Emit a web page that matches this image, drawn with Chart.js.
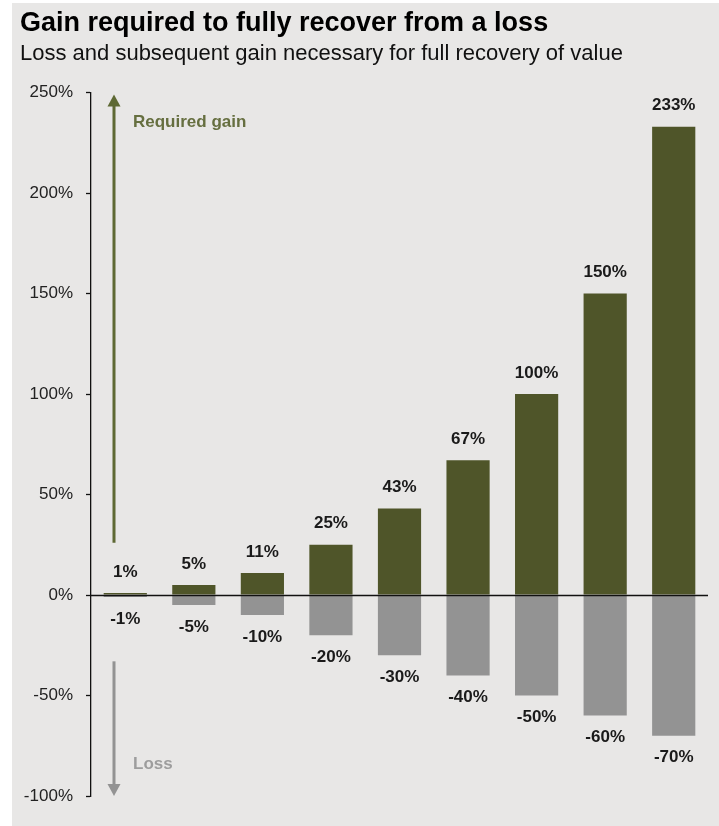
<!DOCTYPE html>
<html>
<head>
<meta charset="utf-8">
<script src="https://cdn.jsdelivr.net/npm/chart.js@4.4.1/dist/chart.umd.min.js"></script>
<style>
  html, body { margin: 0; padding: 0; background: #ffffff; }
  #wrap { position: relative; width: 719px; height: 826px; }
  canvas { display: block; }
</style>
</head>
<body>
<div id="wrap"><canvas id="chart" width="719" height="826"></canvas></div>
<script>
// Loss levels and the gain needed afterwards to get back to the starting value
const categories = ['1%', '5%', '10%', '20%', '30%', '40%', '50%', '60%', '70%'];
const lossValues = [-1, -5, -10, -20, -30, -40, -50, -60, -70];
const gainValues = [1, 5, 11, 25, 43, 67, 100, 150, 233];

// Value axis
const yMin = -100;
const yMax = 250;
const yStep = 50;

// Direction arrows, in axis units (start, tip) and their captions
const gainArrow = [26, 249];
const lossArrow = [-33, -100];
const gainCaption = { text: 'Required gain', value: 235 };
const lossCaption = { text: 'Loss', value: -84 };

const titleText = 'Gain required to fully recover from a loss';
const subtitleText = 'Loss and subsequent gain necessary for full recovery of value';

const FONT = '"Liberation Sans", Arial, Helvetica, sans-serif';
const GREEN = '#4f5529';
const GREY = '#939393';
const ARROW_GREEN = '#5e6934';
const CAPTION_GREEN = '#666f40';

const backgroundPlugin = {
  id: 'panelBackground',
  beforeDraw(chart) {
    const ctx = chart.ctx;
    ctx.save();
    ctx.fillStyle = '#ffffff';
    ctx.fillRect(0, 0, chart.width, chart.height);
    ctx.fillStyle = '#e8e7e6';
    ctx.fillRect(12, 3, chart.width - 12, chart.height - 3);
    ctx.restore();
  }
};

const headingPlugin = {
  id: 'heading',
  afterDraw(chart) {
    const ctx = chart.ctx;
    ctx.save();
    ctx.textAlign = 'left';
    ctx.textBaseline = 'alphabetic';
    ctx.fillStyle = '#000000';
    ctx.font = 'bold 27px ' + FONT;
    ctx.fillText(titleText, 20, 31);
    ctx.fillStyle = '#111111';
    ctx.font = '22px ' + FONT;
    ctx.fillText(subtitleText, 20, 60);
    ctx.restore();
  }
};

function drawArrow(ctx, x, yFrom, yTip, color) {
  const dir = yTip < yFrom ? -1 : 1;
  const headLen = 12;
  const headHalf = 6.5;
  ctx.strokeStyle = color;
  ctx.fillStyle = color;
  ctx.lineWidth = 3;
  ctx.beginPath();
  ctx.moveTo(x, yFrom);
  ctx.lineTo(x, yTip - dir * headLen + dir * 1);
  ctx.stroke();
  ctx.beginPath();
  ctx.moveTo(x, yTip);
  ctx.lineTo(x - headHalf, yTip - dir * headLen);
  ctx.lineTo(x + headHalf, yTip - dir * headLen);
  ctx.closePath();
  ctx.fill();
}

const annotationPlugin = {
  id: 'arrowsAndLabels',
  afterDatasetsDraw(chart) {
    const ctx = chart.ctx;
    const y = chart.scales.y;
    const area = chart.chartArea;
    ctx.save();

    // zero line across the plot, above the bars
    const y0 = Math.round(y.getPixelForValue(0)) + 0.5;
    ctx.strokeStyle = '#111111';
    ctx.lineWidth = 1.3;
    ctx.beginPath();
    ctx.moveTo(area.left, y0);
    ctx.lineTo(area.right, y0);
    ctx.stroke();

    // value labels above gains and below losses
    ctx.font = 'bold 17px ' + FONT;
    ctx.fillStyle = '#1a1a1a';
    ctx.textAlign = 'center';
    ctx.textBaseline = 'middle';
    chart.data.datasets.forEach((ds, di) => {
      const meta = chart.getDatasetMeta(di);
      meta.data.forEach((bar, i) => {
        const v = ds.data[i];
        const ty = v >= 0 ? bar.y - 21 : bar.y + 22;
        ctx.fillText(v + '%', bar.x, ty);
      });
    });

    // direction arrows at the left of the plot
    const ax = area.left + 23;
    drawArrow(ctx, ax, y.getPixelForValue(gainArrow[0]), y.getPixelForValue(gainArrow[1]), ARROW_GREEN);
    drawArrow(ctx, ax, y.getPixelForValue(lossArrow[0]), y.getPixelForValue(lossArrow[1]), GREY);

    ctx.textAlign = 'left';
    ctx.font = 'bold 17px ' + FONT;
    ctx.fillStyle = CAPTION_GREEN;
    ctx.fillText(gainCaption.text, ax + 19, y.getPixelForValue(gainCaption.value));
    ctx.fillStyle = '#9d9d9d';
    ctx.fillText(lossCaption.text, ax + 19, y.getPixelForValue(lossCaption.value));

    ctx.restore();
  }
};

new Chart(document.getElementById('chart'), {
  type: 'bar',
  data: {
    labels: categories,
    datasets: [
      {
        label: 'Required gain',
        data: gainValues,
        backgroundColor: GREEN,
        borderWidth: 0,
        barPercentage: 0.63,
        categoryPercentage: 1
      },
      {
        label: 'Loss',
        data: lossValues,
        backgroundColor: GREY,
        borderWidth: 0,
        barPercentage: 0.63,
        categoryPercentage: 1
      }
    ]
  },
  options: {
    responsive: false,
    animation: false,
    devicePixelRatio: 1,
    layout: { padding: { top: 92.5, right: 11, bottom: 30, left: 0 } },
    plugins: {
      legend: { display: false },
      title: { display: false },
      tooltip: { enabled: false }
    },
    scales: {
      x: {
        stacked: true,
        display: false
      },
      y: {
        stacked: true,
        min: yMin,
        max: yMax,
        afterFit(scale) { scale.width = 91; },
        ticks: {
          stepSize: yStep,
          padding: 13,
          color: '#222222',
          font: { family: FONT, size: 17 },
          callback: (v) => v + '%'
        },
        grid: {
          drawOnChartArea: false,
          drawTicks: true,
          tickLength: 5,
          tickColor: '#111111',
          tickWidth: 1.3
        },
        border: { display: true, color: '#111111', width: 1.3 }
      }
    }
  },
  plugins: [backgroundPlugin, headingPlugin, annotationPlugin]
});
</script>
</body>
</html>
